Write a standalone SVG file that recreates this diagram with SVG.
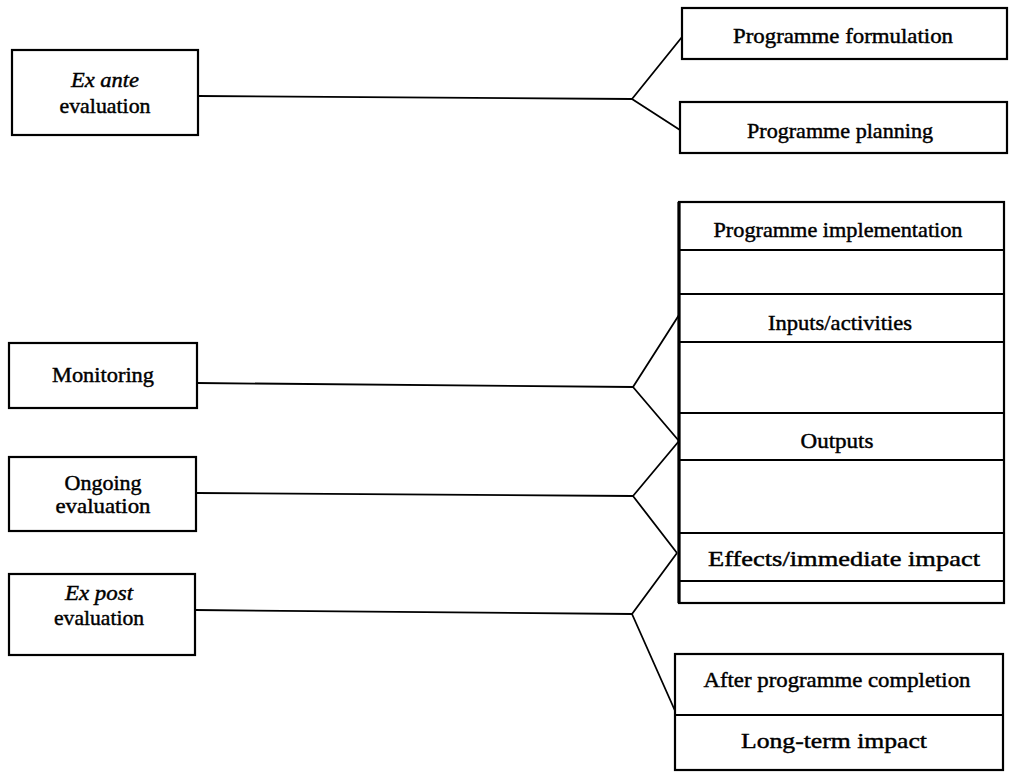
<svg xmlns="http://www.w3.org/2000/svg" width="1009" height="777" viewBox="0 0 1009 777">
  <style>
    .box { fill: #fff; stroke: #000; stroke-width: 2.2; }
    .div { stroke: #000; stroke-width: 2; fill: none; }
    .con { stroke: #000; stroke-width: 1.8; fill: none; stroke-linejoin: round; }
    text { font-family: "Liberation Serif", "Times New Roman", serif; font-size: 22px; fill: #000; stroke: #000; stroke-width: 0.45; text-anchor: middle; }
    .it { font-style: italic; }
  </style>
  <rect width="1009" height="777" fill="#fff"/>

  <!-- connectors: each evaluation stage forks onto the programme phases -->
  <g id="connectors">
    <polyline class="con" points="198,96 632,99"/>
    <polyline class="con" points="682,37 632,99 680,130"/>

    <polyline class="con" points="197,383 633,387"/>
    <polyline class="con" points="679,315 633,387 679,441"/>

    <polyline class="con" points="196,493 633,496"/>
    <polyline class="con" points="679,441 633,496 677,553"/>

    <polyline class="con" points="195,610 632,614"/>
    <polyline class="con" points="677,553 632,614 676,713"/>
  </g>

  <!-- left column: evaluation types -->
  <g id="ex-ante">
    <rect class="box" x="12" y="50" width="186" height="85"/>
    <text class="it" x="105" y="87" textLength="68" lengthAdjust="spacingAndGlyphs">Ex ante</text>
    <text x="105" y="113" textLength="91" lengthAdjust="spacingAndGlyphs">evaluation</text>
  </g>
  <g id="monitoring">
    <rect class="box" x="9" y="343" width="188" height="65"/>
    <text x="103" y="382" textLength="102" lengthAdjust="spacingAndGlyphs">Monitoring</text>
  </g>
  <g id="ongoing">
    <rect class="box" x="9" y="457" width="187" height="74"/>
    <text x="103" y="490" textLength="77" lengthAdjust="spacingAndGlyphs">Ongoing</text>
    <text x="103" y="513" textLength="95" lengthAdjust="spacingAndGlyphs">evaluation</text>
  </g>
  <g id="ex-post">
    <rect class="box" x="9" y="574" width="186" height="81"/>
    <text class="it" x="99" y="600" textLength="68" lengthAdjust="spacingAndGlyphs">Ex post</text>
    <text x="99" y="625" textLength="90" lengthAdjust="spacingAndGlyphs">evaluation</text>
  </g>

  <!-- right column: programme phases -->
  <g id="formulation">
    <rect class="box" x="682" y="8" width="325" height="51"/>
    <text x="843" y="43" textLength="220" lengthAdjust="spacingAndGlyphs">Programme formulation</text>
  </g>
  <g id="planning">
    <rect class="box" x="680" y="102" width="327" height="51"/>
    <text x="840" y="138" textLength="186" lengthAdjust="spacingAndGlyphs">Programme planning</text>
  </g>

  <g id="implementation">
    <rect class="box" x="679" y="202" width="325" height="401"/>
    <line x1="679" y1="202" x2="679" y2="603" stroke="#000" stroke-width="3.2"/>
    <line class="div" x1="679" y1="250" x2="1004" y2="250"/>
    <line class="div" x1="679" y1="294" x2="1004" y2="294"/>
    <line class="div" x1="679" y1="342" x2="1004" y2="342"/>
    <line class="div" x1="679" y1="413" x2="1004" y2="413"/>
    <line class="div" x1="679" y1="460" x2="1004" y2="460"/>
    <line class="div" x1="679" y1="533" x2="1004" y2="533"/>
    <line class="div" x1="679" y1="581" x2="1004" y2="581"/>
    <text x="838" y="237" textLength="249" lengthAdjust="spacingAndGlyphs">Programme implementation</text>
    <text x="840" y="330" textLength="144" lengthAdjust="spacingAndGlyphs">Inputs/activities</text>
    <text x="837" y="448" textLength="73" lengthAdjust="spacingAndGlyphs">Outputs</text>
    <text x="844" y="566" textLength="272" lengthAdjust="spacingAndGlyphs">Effects/immediate impact</text>
  </g>

  <g id="after-completion">
    <rect class="box" x="675" y="654" width="328" height="116"/>
    <line class="div" x1="675" y1="715" x2="1003" y2="715"/>
    <text x="837" y="687" textLength="267" lengthAdjust="spacingAndGlyphs">After programme completion</text>
    <text x="834" y="748" textLength="186" lengthAdjust="spacingAndGlyphs">Long-term impact</text>
  </g>
</svg>
